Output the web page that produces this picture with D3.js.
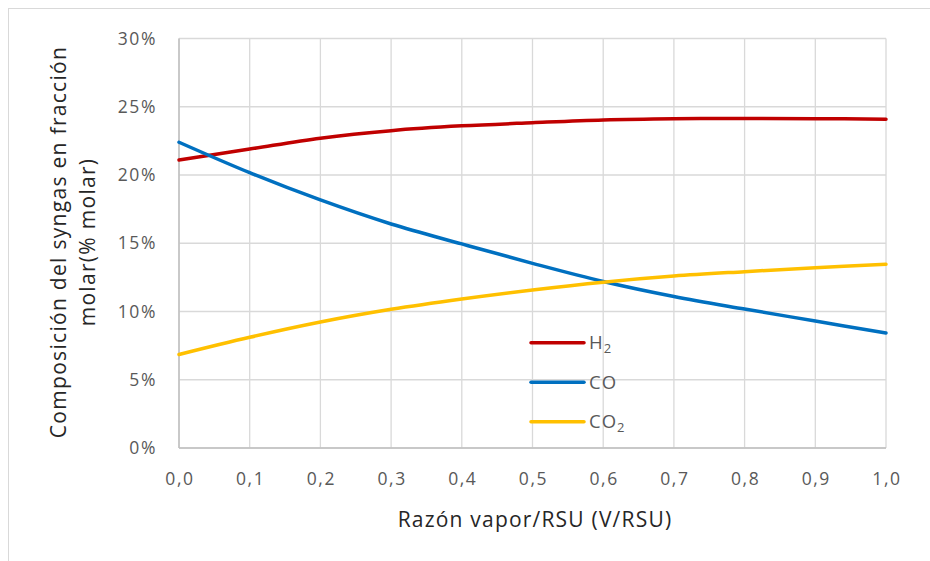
<!DOCTYPE html>
<html lang="es">
	<head>
		<meta charset="utf-8">
		<title>Composición del syngas vs razón vapor/RSU</title>
		<script type="text/javascript" src="https://cdn.jsdelivr.net/npm/d3@7"></script>
		<style type="text/css">
			body { margin: 0; background: #fff; }
			text { font-family: "Open Sans", sans-serif; }
		</style>
	</head>
	<body>
		<script type="text/javascript">

			//Width and height
			var w = 930;
			var h = 561;

			//data (fraction in %)
			var ratio = [0.0, 0.1, 0.2, 0.3, 0.4, 0.5, 0.6, 0.7, 0.8, 0.9, 1.0];
			var h2  = [21.1, 21.9, 22.7, 23.25, 23.6, 23.83, 24.03, 24.12, 24.14, 24.13, 24.08];
			var co  = [22.4, 20.17, 18.17, 16.41, 14.95, 13.53, 12.2, 11.1, 10.18, 9.3, 8.42];
			var co2 = [6.85, 8.11, 9.23, 10.16, 10.92, 11.58, 12.15, 12.6, 12.92, 13.21, 13.46];
			var xTicks = [0, 0.1, 0.2, 0.3, 0.4, 0.5, 0.6, 0.7, 0.8, 0.9, 1.0];
			var yTicks = [0, 5, 10, 15, 20, 25, 30];

			var series = [
				{ name: "H", sub: "2", values: h2, color: "#C00000" },
				{ name: "CO", sub: "", values: co, color: "#0070C0" },
				{ name: "CO", sub: "2", values: co2, color: "#FFC000" }
			];

			//Create SVG element
			var svg = d3.select("body")
						.append("svg")
						.attr("width", w)
						.attr("height", h);

			//chart border (runs off the picture on right and bottom)
			svg.append("rect")
				.attr("x", 8.5).attr("y", 8.5)
				.attr("width", w + 20).attr("height", h + 20)
				.attr("fill", "none")
				.attr("stroke", "#D9D9D9");

			//scales
			var x = d3.scaleLinear().domain([0, 1]).range([179, 886]);
			var y = d3.scaleLinear().domain([0, 30]).range([448, 38.5]);

			//gridlines
			svg.append("g")
				.selectAll("line.v")
				.data(xTicks)
				.enter()
				.append("line")
				.attr("x1", function(d) { return x(d); })
				.attr("x2", function(d) { return x(d); })
				.attr("y1", y(0)).attr("y2", y(30))
				.attr("stroke", "#D9D9D9")
				.attr("stroke-width", 1.3);

			svg.append("g")
				.selectAll("line.h")
				.data(yTicks)
				.enter()
				.append("line")
				.attr("x1", x(0)).attr("x2", x(1))
				.attr("y1", function(d) { return y(d); })
				.attr("y2", function(d) { return y(d); })
				.attr("stroke", "#D9D9D9")
				.attr("stroke-width", 1.3);

			//axis lines
			svg.append("line")
				.attr("x1", x(0)).attr("x2", x(0))
				.attr("y1", y(0)).attr("y2", y(30))
				.attr("stroke", "#BFBFBF").attr("stroke-width", 1.5);
			svg.append("line")
				.attr("x1", x(0)).attr("x2", x(1))
				.attr("y1", y(0)).attr("y2", y(0))
				.attr("stroke", "#BFBFBF").attr("stroke-width", 1.5);

			//tick labels
			svg.append("g")
				.selectAll("text")
				.data(yTicks)
				.enter()
				.append("text")
				.text(function(d) { return d + "%"; })
				.attr("x", 157)
				.attr("y", function(d) { return y(d) + 6; })
				.attr("text-anchor", "end")
				.attr("font-size", "17.5px")
				.attr("letter-spacing", "1.6px")
				.attr("fill", "#595959");

			svg.append("g")
				.selectAll("text")
				.data(xTicks)
				.enter()
				.append("text")
				.text(function(d) { return d3.format(".1f")(d).replace(".", ","); })
				.attr("x", function(d) { return x(d) + 1; })
				.attr("y", 485)
				.attr("text-anchor", "middle")
				.attr("font-size", "17.5px")
				.attr("letter-spacing", "1.6px")
				.attr("fill", "#595959");

			//axis titles
			svg.append("text")
				.text("Razón vapor/RSU (V/RSU)")
				.attr("x", 535)
				.attr("y", 527)
				.attr("text-anchor", "middle")
				.attr("font-size", "21px")
				.attr("letter-spacing", "1.2px")
				.attr("fill", "#262626");

			var yt = svg.append("text")
				.attr("transform", "translate(0,242) rotate(-90)")
				.attr("text-anchor", "middle")
				.attr("font-size", "21px")
				.attr("letter-spacing", "1.3px")
				.attr("fill", "#262626");
			yt.append("tspan").attr("x", 0).attr("y", 66).text("Composición del syngas en fracción");
			yt.append("tspan").attr("x", 0).attr("y", 95).text("molar(% molar)");

			//lines
			var line = d3.line()
				.x(function(d, i) { return x(ratio[i]); })
				.y(function(d) { return y(d); })
				.curve(d3.curveCatmullRom);

			svg.append("g")
				.selectAll("path")
				.data(series)
				.enter()
				.append("path")
				.attr("d", function(d) { return line(d.values); })
				.attr("fill", "none")
				.attr("stroke", function(d) { return d.color; })
				.attr("stroke-width", 3.5)
				.attr("stroke-linecap", "round");

			//legend
			var legend = svg.append("g")
				.selectAll("g")
				.data(series)
				.enter()
				.append("g")
				.attr("transform", function(d, i) { return "translate(531," + (342.7 + i * 39.5) + ")"; });

			legend.append("line")
				.attr("x1", 0).attr("x2", 53)
				.attr("stroke", function(d) { return d.color; })
				.attr("stroke-width", 3.5)
				.attr("stroke-linecap", "round");

			var lt = legend.append("text")
				.attr("x", 58)
				.attr("y", 6.5)
				.attr("font-size", "18.5px")
				.attr("letter-spacing", "1px")
				.attr("fill", "#595959");
			lt.append("tspan").text(function(d) { return d.name; });
			lt.append("tspan")
				.attr("dy", 4)
				.attr("font-size", "13px")
				.text(function(d) { return d.sub; });

		</script>
	</body>
</html>
